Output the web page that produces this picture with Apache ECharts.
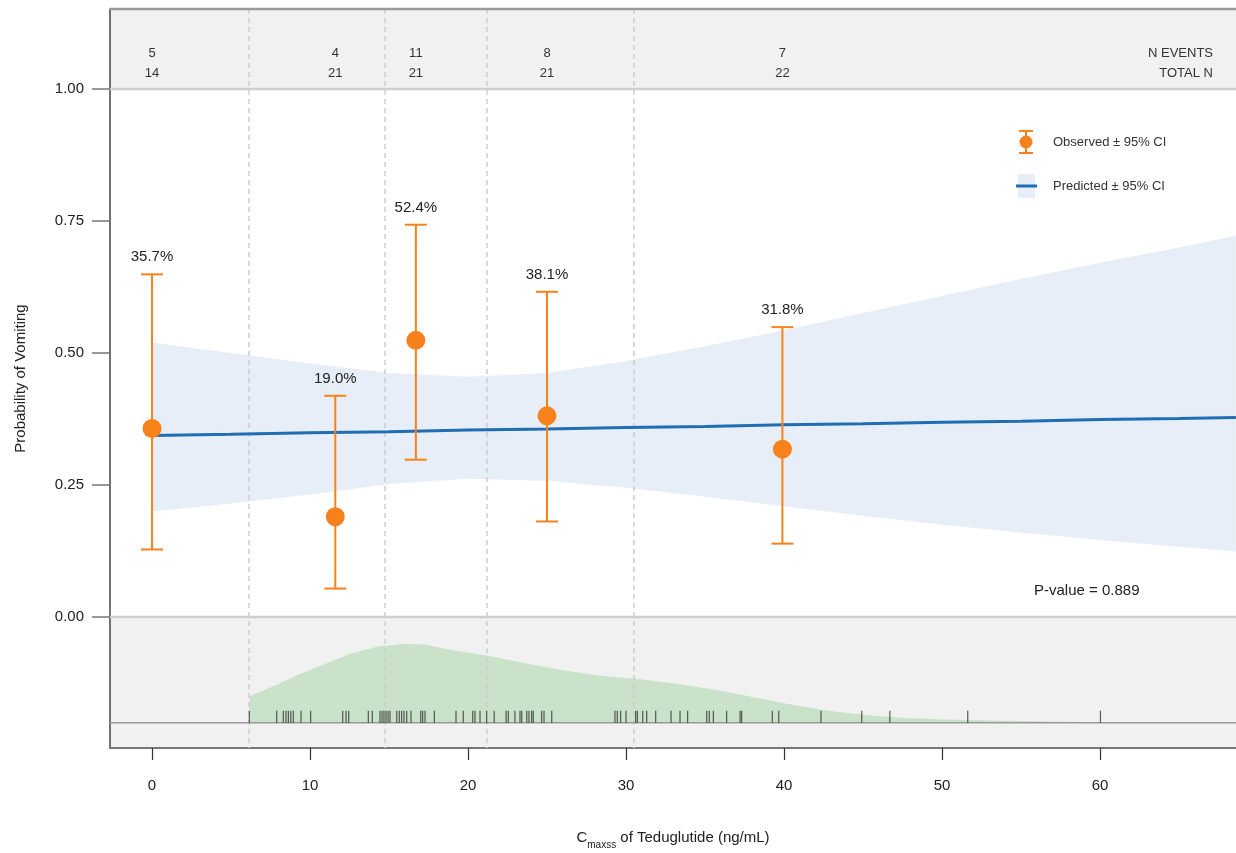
<!DOCTYPE html>
<html>
<head>
<meta charset="utf-8">
<script src="https://cdn.jsdelivr.net/npm/echarts@6/dist/echarts.min.js"></script>
<style>
  html, body { margin: 0; padding: 0; background: #ffffff; }
  #chart { width: 1236px; height: 853px; }
</style>
</head>
<body>
<div id="chart"></div>
<script>
// ---------------- DATA ----------------
const obsX = [0, 11.6, 16.7, 25.0, 39.9];
const obsP = [0.357, 0.190, 0.524, 0.381, 0.318];
const obsLo = [0.128, 0.054, 0.298, 0.181, 0.139];
const obsHi = [0.649, 0.419, 0.743, 0.616, 0.549];
const obsLabel = ['35.7%', '19.0%', '52.4%', '38.1%', '31.8%'];
const nEvents = [5, 4, 11, 8, 7];
const totalN = [14, 21, 21, 21, 22];
const binCuts = [6.14, 14.75, 21.2, 30.5];

const predX  = [0, 5, 10, 15, 20, 25, 30, 35, 40, 45, 50, 55, 60, 65, 68.6];
const predY  = [0.344, 0.346, 0.349, 0.351, 0.354, 0.356, 0.359, 0.361, 0.364, 0.366, 0.369, 0.371, 0.374, 0.376, 0.378];
const predLo = [0.200, 0.215, 0.232, 0.252, 0.262, 0.258, 0.245, 0.228, 0.210, 0.192, 0.175, 0.160, 0.146, 0.133, 0.124];
const predHi = [0.520, 0.500, 0.480, 0.462, 0.455, 0.462, 0.485, 0.513, 0.543, 0.576, 0.608, 0.640, 0.671, 0.700, 0.722];

const densX = [6.18, 8.0, 9.1, 10.7, 12.5, 14.3, 15.9, 17.3, 18.9, 21.2, 23.8, 26.1, 28.4, 30.9, 33.3, 35.7, 38.1, 40.5, 42.9, 45.3, 47.7, 50.1, 54.9, 59.7, 64.6, 68.6];
const densH = [0.050, 0.073, 0.089, 0.108, 0.130, 0.144, 0.149, 0.148, 0.1375, 0.127, 0.111, 0.099, 0.089, 0.082, 0.073, 0.062, 0.048, 0.034, 0.022, 0.014, 0.009, 0.006, 0.003, 0.001, 0.0, 0.0];

const rugX = [6.16, 7.89, 8.31, 8.48, 8.63, 8.78, 8.94, 9.43, 10.04, 12.07, 12.28, 12.45, 13.69, 13.94,
  14.43, 14.56, 14.68, 14.81, 14.94, 15.06, 15.49, 15.65, 15.80, 15.95, 16.12, 16.39, 17.01, 17.13, 17.28,
  17.87, 19.24, 19.70, 20.30, 20.44, 20.76, 21.18, 21.66, 22.41, 22.55, 22.97, 23.29, 23.40, 23.72, 23.86,
  24.03, 24.13, 24.66, 24.81, 25.30, 29.30, 29.45, 29.66, 30.00, 30.61, 30.72, 31.06, 31.31, 31.88, 32.85,
  33.42, 33.90, 35.11, 35.27, 35.53, 36.37, 37.22, 37.32, 39.26, 39.67, 42.34, 44.92, 46.70, 51.63, 60.03];

const xTicks = [0, 10, 20, 30, 40, 50, 60];
const yTicks = [0, 0.25, 0.5, 0.75, 1.0];

// ---------------- CHART ----------------
const FONT = '"Liberation Sans", Arial, Helvetica, sans-serif';
const ORANGE = '#f7821b';
const BLUE = '#1f6db3';
const BAND = '#e7eef7';
const GREEN = '#c9e2c9';
const X_MIN = -2.66, X_MAX = 68.61, Y_MIN = -0.248, Y_MAX = 1.1515;
const RUG_BASE = -0.2;

const chart = echarts.init(document.getElementById('chart'), null, { renderer: 'canvas' });

const option = {
  animation: false,
  backgroundColor: '#ffffff',
  textStyle: { fontFamily: FONT },
  grid: { left: 110, right: 0, top: 9, bottom: 105, containLabel: false, outerBoundsMode: 'none',
    show: true, backgroundColor: '#f1f1f1', borderWidth: 0 },
  xAxis: {
    type: 'value', min: X_MIN, max: X_MAX,
    name: '{c|C}{s|maxss}{c| of Teduglutide (ng/mL)}',
    nameLocation: 'middle', nameGap: 82,
    nameTextStyle: {
      rich: {
        c: { fontSize: 15, color: '#222', fontFamily: FONT, verticalAlign: 'bottom' },
        s: { fontSize: 10, color: '#222', fontFamily: FONT, verticalAlign: 'bottom', padding: [0, 0, -5, 0] }
      }
    },
    splitLine: { show: false },
    axisLine: { show: true, onZero: false, lineStyle: { color: '#777', width: 2 } },
    axisTick: { show: true, length: 12, customValues: xTicks, lineStyle: { color: '#333', width: 1.2 } },
    axisLabel: { customValues: xTicks, margin: 30, fontSize: 15, color: '#222', fontFamily: FONT }
  },
  yAxis: {
    type: 'value', min: Y_MIN, max: Y_MAX,
    name: 'Probability of Vomiting', nameLocation: 'middle', nameGap: 82,
    nameTextStyle: { fontSize: 15, color: '#222', fontFamily: FONT },
    splitLine: { show: false },
    axisLine: { show: true, onZero: false, lineStyle: { color: '#444', width: 1.5 } },
    axisTick: { show: true, length: 18, customValues: yTicks, lineStyle: { color: '#777', width: 1.5 } },
    axisLabel: { customValues: yTicks, margin: 26, fontSize: 15, color: '#222', fontFamily: FONT,
      formatter: v => v.toFixed(2) }
  },
  series: [
    // backdrop: white centre panel
    {
      type: 'custom', z: 0, silent: true,
      data: [[0]],
      renderItem: function (params, api) {
        const tl = api.coord([X_MIN, 1]);
        const br = api.coord([X_MAX, 0]);
        return { type: 'rect', shape: { x: tl[0], y: tl[1], width: br[0] - tl[0], height: br[1] - tl[1] }, style: { fill: '#ffffff' } };
      }
    },
    // predicted band polygon
    {
      type: 'custom', z: 2, silent: true,
      data: predX.map((x, i) => [x, predLo[i], predHi[i]]),
      renderItem: function (params, api) {
        if (params.dataIndex !== 0) return null;
        const pts = [];
        predX.forEach((x, i) => pts.push(api.coord([x, predHi[i]])));
        for (let i = predX.length - 1; i >= 0; i--) pts.push(api.coord([predX[i], predLo[i]]));
        return { type: 'polygon', shape: { points: pts }, style: { fill: BAND } };
      }
    },
    // density polygon
    {
      type: 'custom', z: 3, silent: true,
      data: densX.map((x, i) => [x, densH[i]]),
      renderItem: function (params, api) {
        if (params.dataIndex !== 0) return null;
        const pts = [];
        densX.forEach((x, i) => pts.push(api.coord([x, RUG_BASE + densH[i]])));
        pts.push(api.coord([densX[densX.length - 1], RUG_BASE]));
        pts.push(api.coord([densX[0], RUG_BASE]));
        return { type: 'polygon', shape: { points: pts }, style: { fill: GREEN } };
      }
    },
    // lines: strip borders, dashed bin lines, top border
    {
      type: 'custom', z: 4, silent: true,
      data: [[0]],
      renderItem: function (params, api) {
        const tl = api.coord([X_MIN, 1]);
        const br = api.coord([X_MAX, 0]);
        const top = api.coord([X_MIN, Y_MAX]);
        const bot = api.coord([X_MIN, Y_MIN]);
        const children = [];
        binCuts.forEach(c => {
          const p = api.coord([c, 0]);
          children.push({ type: 'line', shape: { x1: p[0], y1: top[1], x2: p[0], y2: bot[1] },
            style: { stroke: '#cdcdcd', lineWidth: 1.5, lineDash: [5, 4] } });
        });
        children.push({ type: 'line', shape: { x1: tl[0], y1: tl[1], x2: br[0], y2: tl[1] }, style: { stroke: '#cfcfcf', lineWidth: 2.5 } });
        children.push({ type: 'line', shape: { x1: tl[0], y1: br[1], x2: br[0], y2: br[1] }, style: { stroke: '#cfcfcf', lineWidth: 2.5 } });
        children.push({ type: 'line', shape: { x1: tl[0], y1: top[1], x2: br[0], y2: top[1] }, style: { stroke: '#9a9a9a', lineWidth: 2.5 } });
        return { type: 'group', children: children };
      }
    },
    // rug baseline + ticks
    {
      type: 'custom', z: 5, silent: true,
      data: rugX.map(x => [x]),
      renderItem: function (params, api) {
        const p = api.coord([api.value(0), RUG_BASE]);
        const children = [
          { type: 'line', shape: { x1: p[0], y1: p[1] - 12, x2: p[0], y2: p[1] }, style: { stroke: 'rgba(40,40,40,0.75)', lineWidth: 1.2 } }
        ];
        if (params.dataIndex === 0) {
          const a = api.coord([X_MIN, RUG_BASE]);
          const b = api.coord([X_MAX, RUG_BASE]);
          children.unshift({ type: 'line', shape: { x1: a[0], y1: a[1], x2: b[0], y2: b[1] }, style: { stroke: '#999', lineWidth: 1.5 } });
        }
        return { type: 'group', children: children };
      }
    },
    // predicted line
    {
      type: 'line', symbol: 'none', silent: true, z: 6,
      lineStyle: { color: BLUE, width: 3 },
      data: predX.map((x, i) => [x, predY[i]])
    },
    // observed error bars + points + percent labels
    {
      type: 'custom', z: 7, silent: true,
      data: obsX.map((x, i) => [x, obsP[i], obsLo[i], obsHi[i]]),
      renderItem: function (params, api) {
        const i = params.dataIndex;
        const x = api.value(0);
        const pc = api.coord([x, api.value(1)]);
        const pl = api.coord([x, api.value(2)]);
        const ph = api.coord([x, api.value(3)]);
        const cap = 11;
        return {
          type: 'group',
          children: [
            { type: 'line', shape: { x1: pl[0], y1: pl[1], x2: ph[0], y2: ph[1] }, style: { stroke: ORANGE, lineWidth: 2 } },
            { type: 'line', shape: { x1: pl[0] - cap, y1: pl[1], x2: pl[0] + cap, y2: pl[1] }, style: { stroke: ORANGE, lineWidth: 2 } },
            { type: 'line', shape: { x1: ph[0] - cap, y1: ph[1], x2: ph[0] + cap, y2: ph[1] }, style: { stroke: ORANGE, lineWidth: 2 } },
            { type: 'circle', shape: { cx: pc[0], cy: pc[1], r: 9.5 }, style: { fill: ORANGE } },
            { type: 'text', style: { x: ph[0], y: ph[1] - 17, text: obsLabel[i], textAlign: 'center', textVerticalAlign: 'middle',
                fontSize: 15, fill: '#222', fontFamily: FONT } }
          ]
        };
      }
    },
    // top strip counts
    {
      type: 'custom', z: 7, silent: true,
      data: obsX.map((x, i) => [x, nEvents[i], totalN[i]]),
      renderItem: function (params, api) {
        const p = api.coord([api.value(0), 1]);
        return {
          type: 'group',
          children: [
            { type: 'text', style: { x: p[0], y: p[1] - 36, text: String(api.value(1)), textAlign: 'center', textVerticalAlign: 'middle', fontSize: 13, fill: '#333', fontFamily: FONT } },
            { type: 'text', style: { x: p[0], y: p[1] - 16, text: String(api.value(2)), textAlign: 'center', textVerticalAlign: 'middle', fontSize: 13, fill: '#333', fontFamily: FONT } }
          ]
        };
      }
    }
  ],
  graphic: {
    elements: [
      { type: 'text', z: 100, x: 1213, y: 53, style: { text: 'N EVENTS', fontSize: 13, fill: '#333', fontFamily: FONT, align: 'right', verticalAlign: 'middle' } },
      { type: 'text', z: 100, x: 1213, y: 73, style: { text: 'TOTAL N', fontSize: 13, fill: '#333', fontFamily: FONT, align: 'right', verticalAlign: 'middle' } },
      // legend: observed
      { type: 'line', z: 100, shape: { x1: 1026, y1: 131, x2: 1026, y2: 153 }, style: { stroke: ORANGE, lineWidth: 2 } },
      { type: 'line', z: 100, shape: { x1: 1019, y1: 131, x2: 1033, y2: 131 }, style: { stroke: ORANGE, lineWidth: 2 } },
      { type: 'line', z: 100, shape: { x1: 1019, y1: 153, x2: 1033, y2: 153 }, style: { stroke: ORANGE, lineWidth: 2 } },
      { type: 'circle', z: 100, shape: { cx: 1026, cy: 142, r: 6.5 }, style: { fill: ORANGE } },
      { type: 'text', z: 100, x: 1053, y: 142, style: { text: 'Observed ± 95% CI', fontSize: 13, fill: '#333', fontFamily: FONT, verticalAlign: 'middle' } },
      // legend: predicted
      { type: 'rect', z: 100, shape: { x: 1018, y: 174, width: 17, height: 24 }, style: { fill: BAND } },
      { type: 'line', z: 101, shape: { x1: 1016, y1: 186, x2: 1037, y2: 186 }, style: { stroke: BLUE, lineWidth: 3 } },
      { type: 'text', z: 100, x: 1053, y: 186, style: { text: 'Predicted ± 95% CI', fontSize: 13, fill: '#333', fontFamily: FONT, verticalAlign: 'middle' } },
      // p-value
      { type: 'text', z: 100, x: 1034, y: 591, style: { text: 'P-value = 0.889', fontSize: 15, fill: '#222', fontFamily: FONT, verticalAlign: 'middle' } }
    ]
  }
};

chart.setOption(option);
</script>
</body>
</html>
